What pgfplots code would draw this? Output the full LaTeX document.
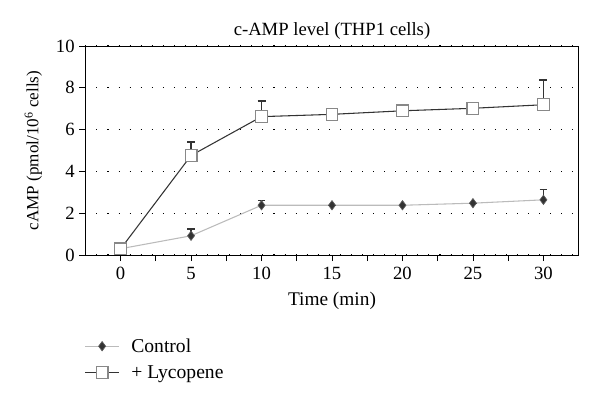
\documentclass[border=0pt]{standalone}
\usepackage{fontspec}
\setmainfont{Liberation Serif}
\usepackage{pgfplots}
\pgfplotsset{compat=1.18}
\usepackage{pgfplotstable}
\definecolor{darkline}{HTML}{333333}
\definecolor{lightline}{HTML}{BBBBBB}
\definecolor{sqedge}{HTML}{888888}
\definecolor{diafill}{HTML}{333333}
\pgfplotstableread{
x y ep
0 0.30 0
5 0.92 0.32
10 2.38 0.22
15 2.38 0
20 2.38 0
25 2.48 0
30 2.64 0.50
}\control
\pgfplotstableread{
x y ep
0 0.29 0
5 4.76 0.64
10 6.62 0.75
15 6.73 0
20 6.90 0
25 7.02 0
30 7.19 1.19
}\lyco
\begin{document}
\begin{tikzpicture}[x=1pt,y=1pt]
\begin{axis}[
  at={(0,0)}, anchor=south west,
  scale only axis,
  width=370pt, height=156.75pt,
  xmin=-2.5, xmax=32.5,
  ymin=0, ymax=10,
  xtick={0,5,...,30},
  minor xtick={2.5,7.5,...,27.5},
  ytick={0,2,...,10},
  tick align=outside,
  tick pos=left,
  major tick length=4.5pt,
  minor tick length=4.5pt,
  tick style={black, line width=0.6pt},
  axis line style={line width=0.7pt},
  ymajorgrids,
  major grid style={black, line width=0.8pt, dash pattern=on 0.8pt off 7.5pt},
  title={c-AMP level (THP1 cells)},
  title style={font=\fontsize{14}{16}\selectfont, yshift=-4.5pt},
  xlabel={Time (min)},
  ylabel={cAMP (pmol/10\textsuperscript{6} cells)},
  xlabel style={font=\fontsize{14.5}{16}\selectfont, yshift=-2.5pt},
  ylabel style={font=\fontsize{12.8}{15}\selectfont, yshift=3.5pt},
  ticklabel style={font=\fontsize{14}{16}\selectfont},
  /pgf/number format/assume math mode=true,
  xticklabel style={yshift=-1pt},
  error bars/y dir=plus,
  error bars/y explicit,
  legend style={at={(0,-0.385)}, anchor=north west, xshift=-0.5pt, draw=none, fill=none,
    font=\fontsize{14.7}{17}\selectfont, row sep=4.5pt, inner xsep=0pt, inner ysep=0pt,
    nodes={inner xsep=4pt},
    legend cell align=left},
  legend image code/.code={\draw[mark repeat=2,mark phase=2,#1] plot coordinates {(0pt,0pt) (12.5pt,0pt) (25pt,0pt)};
    \path (30pt,0pt);},
]
\addplot[lightline, line width=0.8pt, mark=diamond*, mark size=3.5pt,
  mark options={fill=diafill, draw=diafill!80!white, line width=0.5pt},
  error bars/error bar style={darkline, line width=1pt},
  error bars/error mark options={rotate=90, darkline, mark size=2.8pt, line width=1pt}]
  table[x=x, y=y, y error plus=ep]{\control};
\addlegendentry{Control}
\addplot[darkline, line width=0.8pt, mark=square*, mark size=4.4pt,
  mark options={fill=white, draw=sqedge, line width=0.9pt},
  error bars/error bar style={darkline, line width=1.2pt},
  error bars/error mark options={rotate=90, darkline, mark size=3pt, line width=1.2pt}]
  table[x=x, y=y, y error plus=ep]{\lyco};
\addlegendentry{+ Lycopene}
\end{axis}
\pgfresetboundingbox
\path (-64pt,-112.5pt) rectangle (386pt,191.25pt);
\end{tikzpicture}
\end{document}
